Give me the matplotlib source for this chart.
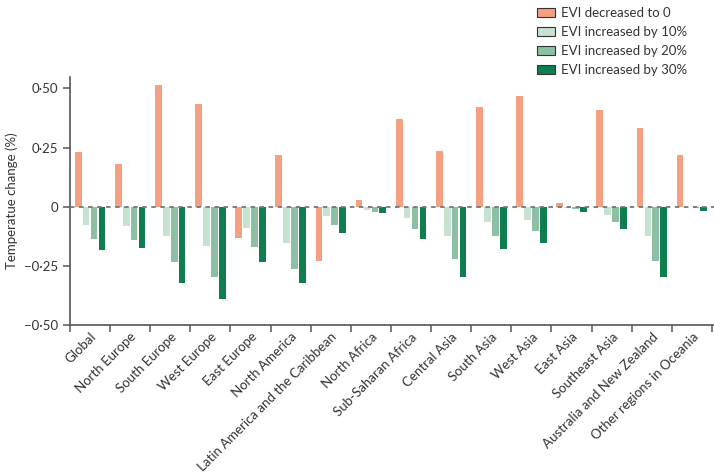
import numpy as np
import matplotlib
matplotlib.use("Agg")
import matplotlib.pyplot as plt
import matplotlib.transforms as mtransforms
from matplotlib.ticker import FixedLocator, NullFormatter

plt.rcParams['font.family'] = ['Lato', 'DejaVu Sans']

regions = ['Global', 'North Europe', 'South Europe', 'West Europe', 'East Europe',
           'North America', 'Latin America and the Caribbean', 'North Africa',
           'Sub-Saharan Africa', 'Central Asia', 'South Asia', 'West Asia',
           'East Asia', 'Southeast Asia', 'Australia and New Zealand',
           'Other regions in Oceania']

evi_0 = [0.232, 0.180, 0.513, 0.434, -0.134, 0.217, -0.228, 0.027,
         0.370, 0.234, 0.420, 0.470, 0.015, 0.410, 0.335, 0.217]
evi_10 = [-0.075, -0.083, -0.125, -0.165, -0.090, -0.154, -0.041, -0.014,
          -0.046, -0.123, -0.066, -0.055, -0.004, -0.035, -0.123, -0.003]
evi_20 = [-0.137, -0.141, -0.235, -0.296, -0.170, -0.262, -0.079, -0.020,
          -0.094, -0.221, -0.125, -0.103, -0.010, -0.066, -0.228, -0.007]
evi_30 = [-0.183, -0.175, -0.324, -0.390, -0.232, -0.324, -0.110, -0.025,
          -0.137, -0.296, -0.179, -0.151, -0.020, -0.092, -0.296, -0.017]

labels = ['EVI decreased to 0', 'EVI increased by 10%',
          'EVI increased by 20%', 'EVI increased by 30%']
colors = ['#F4A081', '#C6E2D1', '#8CBFA3', '#0F7D50']

fig = plt.figure(figsize=(7.14, 4.76), dpi=100)
ax = fig.add_axes([0.098, 0.317, 0.902, 0.522])

x = np.arange(len(regions))
w = 0.167
step = 0.197
for k, (vals, c, lab) in enumerate(zip([evi_0, evi_10, evi_20, evi_30], colors, labels)):
    ax.bar(x + (k - 1.5) * step, vals, width=w, color=c, label=lab,
           edgecolor='none', zorder=2)

ax.axhline(0, color='#6f7a76', lw=1.3, ls=(0, (2.5, 2.5)), zorder=3)

ax.set_xlim(-0.5, len(regions) - 0.45)
ax.set_ylim(-0.5, 0.55)
ax.set_yticks([0.5, 0.25, 0, -0.25, -0.5])
ax.set_yticklabels(['0·50', '0·25', '0', '\u22120·25', '\u22120·50'])

ax.xaxis.set_major_locator(FixedLocator(np.arange(-0.5, len(regions), 1.0)))
ax.xaxis.set_major_formatter(NullFormatter())
ax.set_xticks(x, minor=True)
ax.set_xticklabels(regions, minor=True, rotation=45, ha='right',
                   rotation_mode='anchor', fontsize=9.5, color='#333333')
shift = mtransforms.ScaledTranslation(5 / 100, 2 / 100, fig.dpi_scale_trans)
for lbl in ax.get_xticklabels(minor=True):
    lbl.set_transform(lbl.get_transform() + shift)
ax.tick_params(axis='x', which='minor', length=0, pad=4)
ax.tick_params(axis='x', which='major', length=5, width=1.1, color='#555555')
ax.tick_params(axis='y', length=5, width=1.1, color='#555555',
               labelsize=9.5, labelcolor='#333333')

for s in ['top', 'right']:
    ax.spines[s].set_visible(False)
for s in ['left', 'bottom']:
    ax.spines[s].set_color('#555555')
    ax.spines[s].set_linewidth(1.2)

ax.set_ylabel('Temperatue change (%)', fontsize=9.5, color='#333333', labelpad=4)

leg = ax.legend(loc='upper left', bbox_to_anchor=(0.725, 1.28), frameon=False,
                fontsize=9.5, handlelength=1.4, handleheight=0.7,
                handletextpad=0.45, labelspacing=0.53, borderaxespad=0,
                borderpad=0)
for h in leg.legend_handles:
    h.set_edgecolor('#333333')
    h.set_linewidth(0.8)
for t in leg.get_texts():
    t.set_color('#333333')

fig.savefig('out.png', dpi=100)
